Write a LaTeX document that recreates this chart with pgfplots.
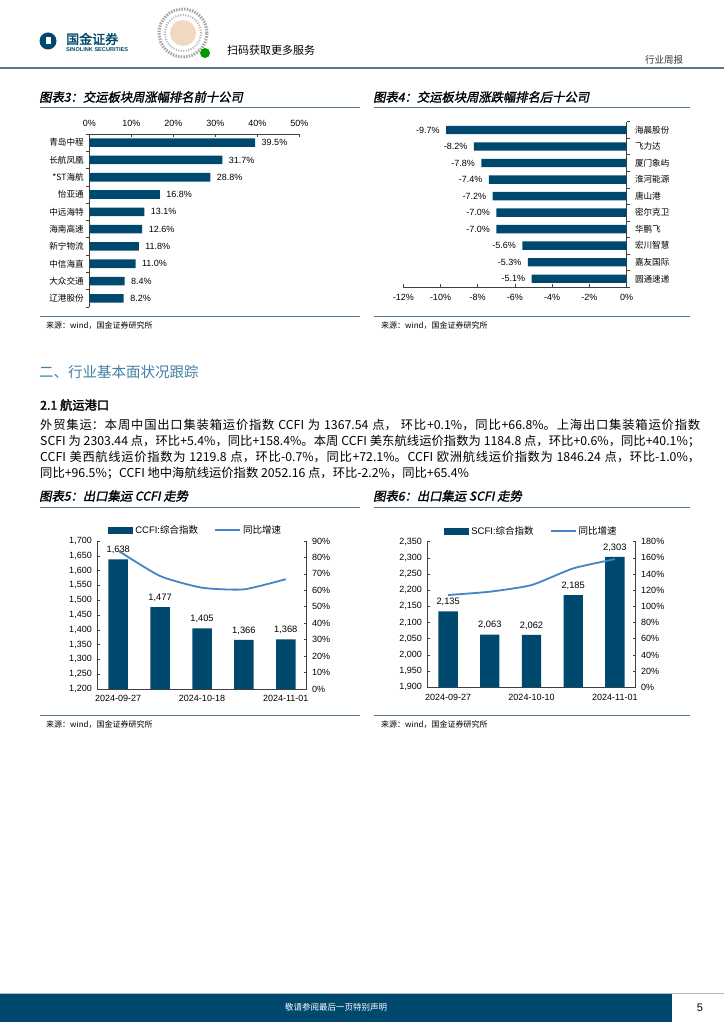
\documentclass[border=0pt]{standalone}
\usepackage{pgfplots}
\pgfplotsset{compat=1.18}
\usepackage{fontspec}
\setmainfont{Noto Sans CJK SC}
\newfontfamily\cjkb[FakeBold=2]{Noto Sans CJK SC}
\newfontfamily\cjkti[FakeBold=1.6,FakeSlant=0.2]{Noto Sans CJK SC}
\newfontfamily\arial{Liberation Sans}
\definecolor{navy}{RGB}{0,73,110}
\definecolor{lblue}{RGB}{70,132,198}
\definecolor{steel}{RGB}{84,120,146}
\definecolor{sect}{RGB}{66,128,165}
\XeTeXlinebreaklocale "zh"
\XeTeXlinebreakskip=0pt plus 1pt
\newcommand\fs[1]{\fontsize{#1}{#1}\selectfont}
\begin{document}
\begin{tikzpicture}
\useasboundingbox (0pt,0pt) rectangle (724pt,-1024pt);
\fill[white] (0pt,0pt) rectangle (724pt,-1024pt);
% ---------------- header
\fill[navy] (48pt,-41pt) circle (8.5pt);
\fill[white] (45.5pt,-44pt) rectangle (51pt,-37pt);
\node[anchor=west, inner sep=0pt, navy] at (66pt,-39pt) {\cjkb\fs{13}国金证券};
\node[anchor=west, inner sep=0pt, navy] at (66pt,-50pt) {\arial\bfseries\fs{5.6}SINOLINK SECURITIES};
\draw[gray!70, line width=3pt, dash pattern=on 1.5pt off 1.2pt] (183pt,-33pt) circle (24pt);
\draw[gray!60, line width=2pt, dash pattern=on 1pt off 1.5pt] (183pt,-33pt) circle (18pt);
\fill[orange!25!brown!30] (183pt,-33pt) circle (13pt);
\fill[green!60!black] (205pt,-53pt) circle (5pt);
\node[anchor=west, inner sep=0pt] at (227pt,-50pt) {\fs{11}扫码获取更多服务};
\node[anchor=center, inner sep=0pt, black!80] at (664pt,-60pt) {\fs{9.5}行业周报};
\draw[steel, line width=2pt] (0pt,-68pt) -- (724pt,-68pt);
% ---------------- titles row 1
\node[anchor=west, inner sep=0pt] at (39pt,-97pt) {\cjkti\fs{12.3}图表3：交运板块周涨幅排名前十公司};
\node[anchor=west, inner sep=0pt] at (373pt,-97pt) {\cjkti\fs{12.3}图表4：交运板块周涨跌幅排名后十公司};
\draw[steel, line width=1pt] (40pt,-108pt) -- (360pt,-108pt);
\draw[steel, line width=1pt] (374pt,-108pt) -- (690pt,-108pt);
\draw[steel, line width=1pt] (40pt,-316pt) -- (360pt,-316pt);
\draw[steel, line width=1pt] (374pt,-316pt) -- (690pt,-316pt);
\node[anchor=west, inner sep=0pt] at (46pt,-326pt) {\fs{8}来源：wind，国金证券研究所};
\node[anchor=west, inner sep=0pt] at (381pt,-326pt) {\fs{8}来源：wind，国金证券研究所};
% ---------------- chart 3
\begin{axis}[at={(89.3pt,-307pt)}, anchor=south west, scale only axis,
  width=210pt, height=173pt,
  xmin=0, xmax=50, ymin=-0.5, ymax=9.5,
  axis x line*=top, axis y line*=left,
  xtick={0,10,...,50}, xticklabels={0\%,10\%,20\%,30\%,40\%,50\%},
  ytick={-0.5,0.5,...,9.5}, y tick label as interval,
  yticklabels={辽港股份,大众交通,中信海直,新宁物流,海南高速,中远海特,怡亚通,{*ST海航},长航凤凰,青岛中程,{}},
  tick align=inside, major tick length=3pt,
  xticklabel style={font=\arial\fs{9}, yshift=3.5pt},
  yticklabel style={font=\fs{8.6}, xshift=1pt},
  axis line style={black!75, line width=0.6pt},
  tick style={black!75, line width=0.6pt},
  xbar, bar width=8.6pt, bar shift=0pt,
  nodes near coords, point meta=explicit symbolic,
  every node near coord/.append style={font=\arial\fs{9}, anchor=west, xshift=3pt},
  clip=false]
\addplot[fill=navy, draw=none] coordinates {
  (8.2,0) [8.2\%] (8.4,1) [8.4\%] (11.0,2) [11.0\%] (11.8,3) [11.8\%] (12.6,4) [12.6\%]
  (13.1,5) [13.1\%] (16.8,6) [16.8\%] (28.8,7) [28.8\%] (31.7,8) [31.7\%] (39.5,9) [39.5\%]};
\end{axis}
% ---------------- chart 4
\begin{axis}[at={(403.3pt,-287pt)}, anchor=south west, scale only axis,
  width=223.2pt, height=165.3pt,
  xmin=-12, xmax=0, ymin=-0.5, ymax=9.5,
  axis x line*=bottom, axis y line*=right,
  xtick={-12,-10,...,0}, xticklabels={-12\%,-10\%,-8\%,-6\%,-4\%,-2\%,0\%},
  ytick={-0.5,0.5,...,9.5}, y tick label as interval,
  yticklabels={圆通速递,嘉友国际,宏川智慧,华鹏飞,密尔克卫,唐山港,淮河能源,厦门象屿,飞力达,海晨股份,{}},
  tick align=inside, major tick length=3pt,
  xticklabel style={font=\arial\fs{9}, yshift=-4pt},
  yticklabel style={font=\fs{8.6}, xshift=2pt},
  axis line style={black!75, line width=0.6pt},
  tick style={black!75, line width=0.6pt},
  xbar, bar width=8.4pt, bar shift=0pt,
  nodes near coords, point meta=explicit symbolic,
  every node near coord/.append style={font=\arial\fs{9}, anchor=east, xshift=-3pt},
  clip=false]
\addplot[fill=navy, draw=none] coordinates {
  (-5.1,0) [-5.1\%] (-5.3,1) [-5.3\%] (-5.6,2) [-5.6\%] (-7.0,3) [-7.0\%] (-7.0,4) [-7.0\%]
  (-7.2,5) [-7.2\%] (-7.4,6) [-7.4\%] (-7.8,7) [-7.8\%] (-8.2,8) [-8.2\%] (-9.7,9) [-9.7\%]};
\end{axis}
% ---------------- section text
\node[anchor=west, inner sep=0pt, sect] at (39pt,-372pt) {\fs{14.5}二、行业基本面状况跟踪};
\node[anchor=west, inner sep=0pt] at (40pt,-405pt) {\cjkb\fs{12.3}2.1 航运港口};
\node[anchor=north west, inner sep=0pt, text width=660pt, align=justify,
  font=\fontsize{12.3}{16}\selectfont] at (40pt,-419pt) {外贸集运：本周中国出口集装箱运价指数 CCFI 为 1367.54 点， 环比+0.1\%，同比+66.8\%。上海出口集装箱运价指数\linebreak SCFI 为 2303.44 点，环比+5.4\%，同比+158.4\%。本周 CCFI 美东航线运价指数为 1184.8 点，环比+0.6\%，同比+40.1\%；\linebreak CCFI 美西航线运价指数为 1219.8 点，环比-0.7\%，同比+72.1\%。CCFI 欧洲航线运价指数为 1846.24 点，环比-1.0\%，\linebreak 同比+96.5\%；CCFI 地中海航线运价指数 2052.16 点，环比-2.2\%，同比+65.4\%\par};
% ---------------- titles row 2
\node[anchor=west, inner sep=0pt] at (39pt,-496pt) {\cjkti\fs{12.3}图表5：出口集运 CCFI 走势};
\node[anchor=west, inner sep=0pt] at (373pt,-496pt) {\cjkti\fs{12.3}图表6：出口集运 SCFI 走势};
\draw[steel, line width=1pt] (40pt,-507pt) -- (360pt,-507pt);
\draw[steel, line width=1pt] (374pt,-507pt) -- (690pt,-507pt);
\draw[steel, line width=1pt] (40pt,-715pt) -- (360pt,-715pt);
\draw[steel, line width=1pt] (374pt,-715pt) -- (690pt,-715pt);
\node[anchor=west, inner sep=0pt] at (46pt,-725pt) {\fs{8}来源：wind，国金证券研究所};
\node[anchor=west, inner sep=0pt] at (381pt,-725pt) {\fs{8}来源：wind，国金证券研究所};
% ---------------- chart 5
\begin{axis}[at={(97.3pt,-689pt)}, anchor=south west, scale only axis,
  width=209.4pt, height=148pt,
  xmin=-0.5, xmax=4.5, ymin=1200, ymax=1700,
  axis x line*=bottom, axis y line*=left,
  xtick={0,2,4}, xticklabels={2024-09-27,2024-10-18,2024-11-01},
  x tick style={draw=none},
  ytick={1200,1250,...,1700},
  yticklabels={{1,200},{1,250},{1,300},{1,350},{1,400},{1,450},{1,500},{1,550},{1,600},{1,650},{1,700}},
  tick align=inside, major tick length=3pt,
  ticklabel style={font=\arial\fs{9}},
  yticklabel style={xshift=-2pt},
  axis line style={black!75, line width=0.6pt},
  tick style={black!75, line width=0.6pt},
  ybar, bar width=19.5pt, bar shift=0pt,
  nodes near coords, point meta=explicit symbolic,
  every node near coord/.append style={font=\arial\fs{9.3}, yshift=2pt},
  legend style={at={(0.47,1.025)}, anchor=south, draw=none, fill=none,
    legend columns=2, font=\fs{9.5}, inner sep=0pt,
    /tikz/every even column/.append style={column sep=14pt}},
  clip=false]
\addplot[fill=navy, draw=none,
  legend image code/.code={\fill[navy] (0pt,-3.5pt) rectangle (25pt,3.5pt);}]
  coordinates {(0,1638) [1{,}638] (1,1477) [1{,}477] (2,1405) [1{,}405] (3,1366) [1{,}366] (4,1368) [1{,}368]};
\addlegendentry{{\arial CCFI:}综合指数}
\addlegendimage{legend image code/.code={\draw[lblue, line width=2pt] (0pt,0pt) -- (25pt,0pt);}}
\addlegendentry{同比增速}
\end{axis}
\begin{axis}[at={(97.3pt,-689pt)}, anchor=south west, scale only axis,
  width=209.4pt, height=148pt,
  xmin=-0.5, xmax=4.5, ymin=0, ymax=90,
  axis x line=none, axis y line*=right,
  ytick={0,10,...,90},
  yticklabels={0\%,10\%,20\%,30\%,40\%,50\%,60\%,70\%,80\%,90\%},
  tick align=inside, major tick length=3pt,
  ticklabel style={font=\arial\fs{9}},
  yticklabel style={xshift=2pt},
  axis line style={black!75, line width=0.6pt},
  tick style={black!75, line width=0.6pt},
  clip=false]
\addplot[lblue, line width=1.8pt, mark=none, smooth, tension=0.35]
  coordinates {(0,84.1) (1,68.7) (2,61.6) (3,60.6) (4,66.8)};
\end{axis}
% ---------------- chart 6
\begin{axis}[at={(427.3pt,-687.3pt)}, anchor=south west, scale only axis,
  width=208.4pt, height=145.6pt,
  xmin=-0.5, xmax=4.5, ymin=1900, ymax=2350,
  axis x line*=bottom, axis y line*=left,
  xtick={0,2,4}, xticklabels={2024-09-27,2024-10-10,2024-11-01},
  x tick style={draw=none},
  ytick={1900,1950,...,2350},
  yticklabels={{1,900},{1,950},{2,000},{2,050},{2,100},{2,150},{2,200},{2,250},{2,300},{2,350}},
  tick align=inside, major tick length=3pt,
  ticklabel style={font=\arial\fs{9}},
  yticklabel style={xshift=-2pt},
  axis line style={black!75, line width=0.6pt},
  tick style={black!75, line width=0.6pt},
  ybar, bar width=19.3pt, bar shift=0pt,
  nodes near coords, point meta=explicit symbolic,
  every node near coord/.append style={font=\arial\fs{9.3}, yshift=2pt},
  legend style={at={(0.5,1.025)}, anchor=south, draw=none, fill=none,
    legend columns=2, font=\fs{9.5}, inner sep=0pt,
    /tikz/every even column/.append style={column sep=14pt}},
  clip=false]
\addplot[fill=navy, draw=none,
  legend image code/.code={\fill[navy] (0pt,-3.5pt) rectangle (25pt,3.5pt);}]
  coordinates {(0,2135) [2{,}135] (1,2063) [2{,}063] (2,2062) [2{,}062] (3,2185) [2{,}185] (4,2303) [2{,}303]};
\addlegendentry{{\arial SCFI:}综合指数}
\addlegendimage{legend image code/.code={\draw[lblue, line width=2pt] (0pt,0pt) -- (25pt,0pt);}}
\addlegendentry{同比增速}
\end{axis}
\begin{axis}[at={(427.3pt,-687.3pt)}, anchor=south west, scale only axis,
  width=208.4pt, height=145.6pt,
  xmin=-0.5, xmax=4.5, ymin=0, ymax=180,
  axis x line=none, axis y line*=right,
  ytick={0,20,...,180},
  yticklabels={0\%,20\%,40\%,60\%,80\%,100\%,120\%,140\%,160\%,180\%},
  tick align=inside, major tick length=3pt,
  ticklabel style={font=\arial\fs{9}},
  yticklabel style={xshift=2pt},
  axis line style={black!75, line width=0.6pt},
  tick style={black!75, line width=0.6pt},
  clip=false]
\addplot[lblue, line width=1.8pt, mark=none, smooth, tension=0.35]
  coordinates {(0,114.1) (1,118.2) (2,126.4) (3,147.0) (4,158.4)};
\end{axis}
% ---------------- footer
\fill[navy] (0pt,-993pt) rectangle (672pt,-1022pt);
\draw[steel!50, line width=1pt] (0pt,-993pt) -- (724pt,-993pt);
\node[white, inner sep=0pt] at (336pt,-1007.5pt) {\fs{8.5}敬请参阅最后一页特别声明};
\node[inner sep=0pt] at (700pt,-1007.5pt) {\arial\fs{11}5};
\end{tikzpicture}
\end{document}
